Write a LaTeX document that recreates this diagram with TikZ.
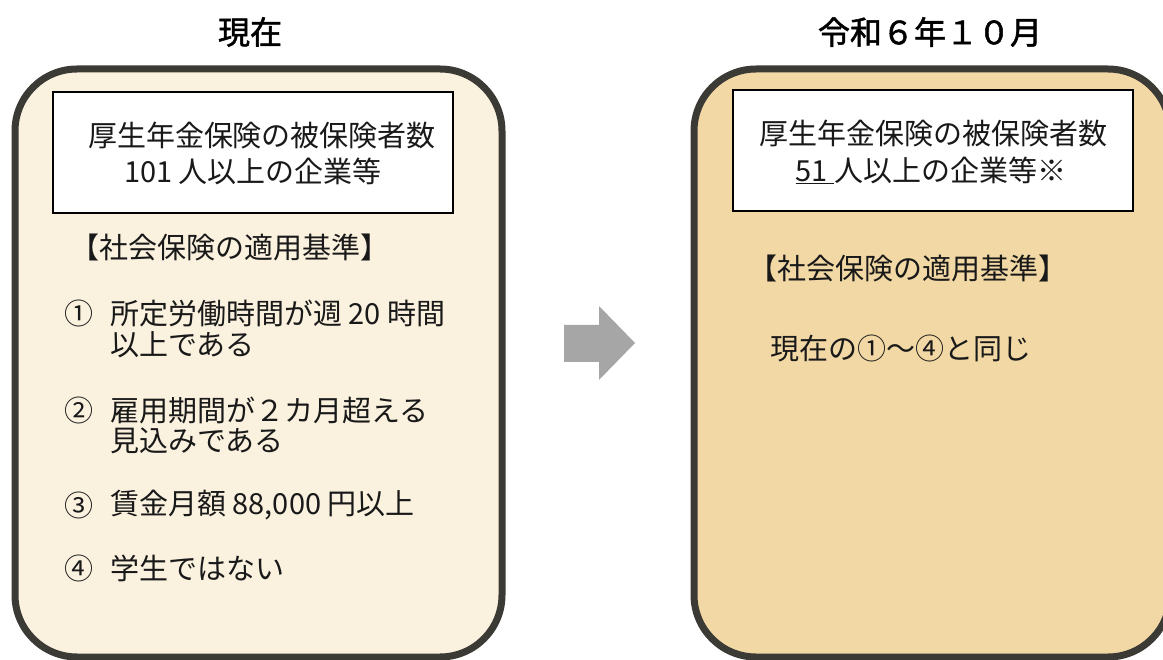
\documentclass[tikz,border=0pt]{standalone}
\usepackage{fontspec}
\setmainfont{Noto Sans CJK JP}
\newfontfamily\headfont{Noto Sans CJK JP}[FakeBold=1.6]
\definecolor{leftfill}{HTML}{FAF1DF}
\definecolor{rightfill}{HTML}{F1D8A5}
\definecolor{frame}{HTML}{3B3A35}
\definecolor{arrowgray}{HTML}{A6A6A6}
\tikzset{
  bigbox/.style={draw=frame, line width=7pt, rounded corners=62pt},
  whitebox/.style={draw=black, line width=1.3pt, fill=white},
  body/.style={inner sep=0pt, anchor=west, font=\fontsize{29}{33}\selectfont, text=black!90},
  boxtext/.style={inner sep=0pt, anchor=center, font=\fontsize{29}{33}\selectfont, text=black!90},
  header/.style={inner sep=0pt, anchor=center, font=\fontsize{32}{36}\selectfont\headfont}
}
\begin{document}
\begin{tikzpicture}[x=1pt,y=-1pt]
\useasboundingbox (0,0) rectangle (1163,660);
\clip (0,0) rectangle (1163,660);
% headers
\node[header] (h1) at (250,32) {現在};
\node[header] (h2) at (930,32) {令和６年１０月};
% left big box
\draw[bigbox, fill=leftfill] (15,69) rectangle (502,657);
\node[whitebox, minimum width=400pt, minimum height=121pt] (lw) at (253,152.5) {};
\node[boxtext] (l1) at (262,135) {厚生年金保険の被保険者数};
\node[boxtext] (l2) at (253,171) {101 人以上の企業等};
\node[body] (lk) at (70,247) {【社会保険の適用基準】};
\node[body] (n1) at (64,313) {①};
\node[body] (t1a) at (110,313) {所定労働時間が週 20 時間};
\node[body] (t1b) at (110,345) {以上である};
\node[body] (n2) at (64,410) {②};
\node[body] (t2a) at (110,410) {雇用期間が２カ月超える};
\node[body] (t2b) at (110,441) {見込みである};
\node[body] (n3) at (64,505) {③};
\node[body] (t3) at (110,505) {賃金月額 88,000 円以上};
\node[body] (n4) at (64,568) {④};
\node[body] (t4) at (110,568) {学生ではない};
% arrow
\fill[arrowgray] (564,325) -- (599,325) -- (599,306) -- (635,343) -- (599,380) -- (599,362) -- (564,362) -- cycle;
% right big box
\draw[bigbox, fill=rightfill] (694,69) rectangle (1170,657);
\node[whitebox, minimum width=400pt, minimum height=121pt] (rw) at (933,150.5) {};
\node[boxtext] (r1) at (933,133) {厚生年金保険の被保険者数};
\node[boxtext] (r2) at (931,170) {\underline{51 }人以上の企業等※};
\node[body] (rk) at (748,268) {【社会保険の適用基準】};
\node[body] (rt) at (770,348) {現在の①～④と同じ};
\end{tikzpicture}
\end{document}
